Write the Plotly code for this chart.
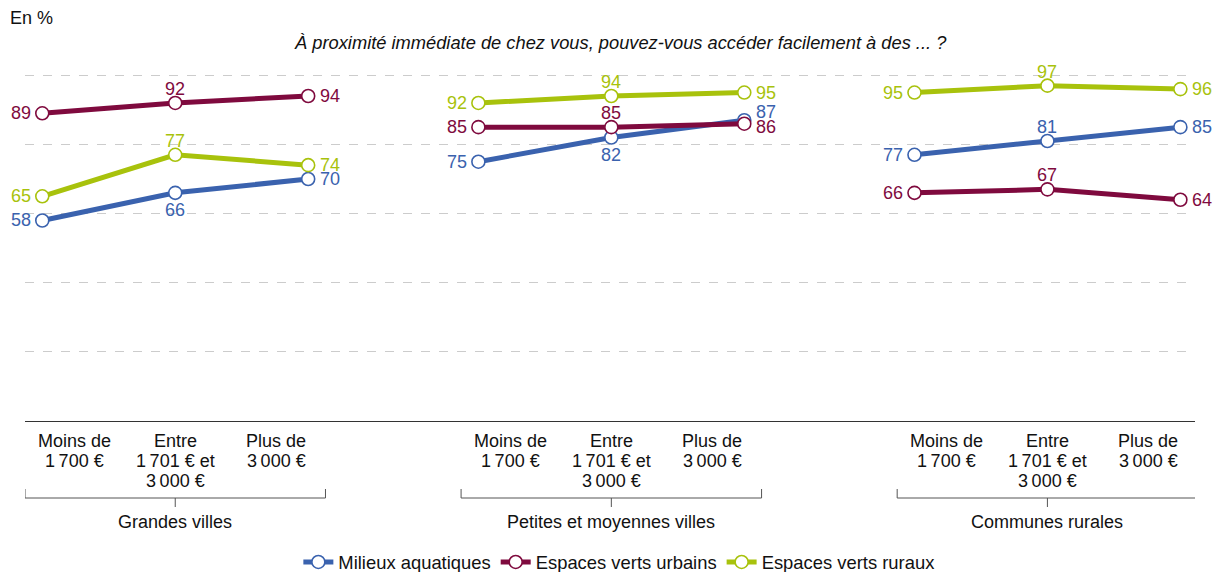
import plotly.graph_objects as go

groupes = ['Grandes villes', 'Petites et moyennes villes', 'Communes rurales']
revenus = [['Moins de', '1\u202f700 €'], ['Entre', '1\u202f701 € et', '3\u202f000 €'], ['Plus de', '3\u202f000 €']]

series = ['Milieux aquatiques', 'Espaces verts urbains', 'Espaces verts ruraux']
aquatiques = [58, 66, 70, 75, 82, 87, 77, 81, 85]
verts_urbains = [89, 92, 94, 85, 85, 86, 66, 67, 64]
verts_ruraux = [65, 77, 74, 92, 94, 95, 95, 97, 96]

couleurs = ['#3a62ae', '#7f0a3e', '#a8c20c']
# where each value label sits relative to its point
positions = [
    ['l', 'b', 'r', 'l', 'b', 'ru', 'l', 't', 'r'],
    ['l', 't', 'r', 'l', 't', 'rd', 'l', 't', 'r'],
    ['l', 't', 'r', 'l', 't', 'r', 'l', 't', 'r'],
]

ecart = 1.28  # gap between groups, in category units
xs = [g * (len(revenus) - 1 + ecart) + i for g in range(len(groupes)) for i in range(len(revenus))]

FONT = 'Liberation Sans, Arial, sans-serif'
FS = 18
TOP, BOTTOM = 58, 421  # plot area in pixels


def py(p):
    # pixel row -> paper y
    return (BOTTOM - p) / (BOTTOM - TOP)


fig = go.Figure()
annotations = []
for nom, vals, col, pos in zip(series, [aquatiques, verts_urbains, verts_ruraux], couleurs, positions):
    x_line, y_line = [], []
    for k, (x, v) in enumerate(zip(xs, vals)):
        if k > 0 and k % len(revenus) == 0:
            x_line.append(None)
            y_line.append(None)
        x_line.append(x)
        y_line.append(v)
    fig.add_trace(go.Scatter(
        x=x_line, y=y_line, name=nom, mode='lines+markers',
        line=dict(color=col, width=5),
        marker=dict(size=13, color='white', line=dict(color=col, width=1.6)),
        connectgaps=False, hoverinfo='skip'
    ))
    for x, v, p in zip(xs, vals, pos):
        a = dict(x=x, y=v, xref='x', yref='y', text=str(v), showarrow=False,
                 font=dict(family=FONT, size=FS, color=col), yanchor='middle')
        if p.startswith('l'):
            a.update(xanchor='right', xshift=-9)
        elif p.startswith('r'):
            a.update(xanchor='left', xshift=10)
            if p == 'ru':
                a['yshift'] = 8
            elif p == 'rd':
                a['yshift'] = -3
        elif p == 't':
            a.update(xanchor='center', yshift=14)
        elif p == 'b':
            a.update(xanchor='center', yshift=-17)
        annotations.append(a)

# income category labels, one line each so the line spacing stays tight;
# outer labels are pulled in toward the middle of their group
decalage = [32, 0, -32]
for k, x in enumerate(xs):
    i = k % len(revenus)
    for j, ligne in enumerate(revenus[i]):
        annotations.append(dict(x=x, y=py(441 + 20 * j), xref='x', yref='paper', text=ligne,
                                showarrow=False, xanchor='center', yanchor='middle', xshift=decalage[i],
                                font=dict(family=FONT, size=FS, color='#111111')))

# group brackets under the income categories
shapes = []
for g, nom in enumerate(groupes):
    x0 = xs[g * 3] - 0.13
    x1 = xs[g * 3 + 2] + 0.13
    xm = xs[g * 3 + 1]
    ln = dict(color='#555555', width=1)
    shapes.append(dict(type='line', xref='x', yref='paper', x0=x0, x1=x1, y0=py(498), y1=py(498), line=ln))
    shapes.append(dict(type='line', xref='x', yref='paper', x0=x0, x1=x0, y0=py(498), y1=py(489), line=ln))
    shapes.append(dict(type='line', xref='x', yref='paper', x0=x1, x1=x1, y0=py(498), y1=py(489), line=ln))
    shapes.append(dict(type='line', xref='x', yref='paper', x0=xm, x1=xm, y0=py(498), y1=py(507), line=ln))
    annotations.append(dict(x=xm, y=py(522), xref='x', yref='paper', text=nom, showarrow=False,
                            font=dict(family=FONT, size=FS, color='#111111'), yanchor='middle'))

annotations.append(dict(x=-0.0145, y=py(18), xref='paper', yref='paper', text='En %', showarrow=False,
                        xanchor='left', yanchor='middle', font=dict(family=FONT, size=FS, color='#111111')))
annotations.append(dict(x=0.509, y=py(43), xref='paper', yref='paper',
                        text='<i>À proximité immédiate de chez vous, pouvez-vous accéder facilement à des ... ?</i>',
                        showarrow=False, xanchor='center', yanchor='middle',
                        font=dict(family=FONT, size=18.3, color='#111111')))

fig.update_layout(
    width=1218, height=572,
    margin=dict(l=25, r=23, t=TOP, b=572 - BOTTOM, autoexpand=False),
    paper_bgcolor='white', plot_bgcolor='white',
    font=dict(family=FONT, size=FS, color='#111111'),
    showlegend=True,
    legend=dict(orientation='h', x=0.508, xanchor='center', y=py(562), yanchor='middle',
                font=dict(size=18.4), itemwidth=30, tracegroupgap=0),
    annotations=annotations, shapes=shapes,
    xaxis=dict(range=[-0.13, xs[-1] + 0.11], showticklabels=False, showgrid=False, zeroline=False,
               showline=True, linecolor='#333333', linewidth=1, ticks=''),
    yaxis=dict(range=[0, 105], tickvals=[20, 40, 60, 80, 100], showticklabels=False,
               showgrid=True, gridcolor='#cccccc', griddash='dash', gridwidth=1,
               zeroline=False, showline=False),
)

fig.write_html('out.html', config={'displayModeBar': False},
               post_script="document.body.style.margin='0';")
